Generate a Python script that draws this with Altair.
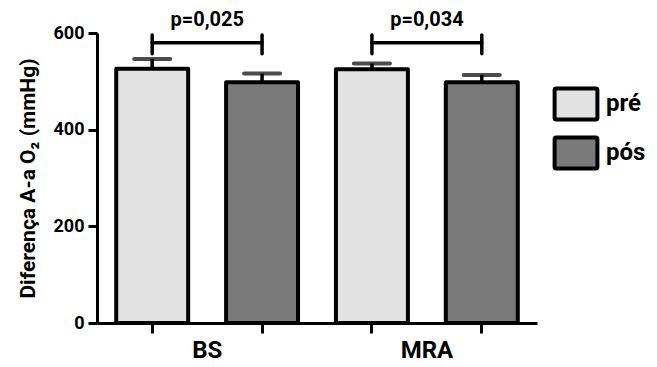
import altair as alt
import pandas as pd

# ---- data ----
groups = ["BS", "BS", "MRA", "MRA"]
periods = ["pré", "pós", "pré", "pós"]
means = [526, 498, 525, 498]
sems = [20, 18, 12, 15]

bracket_left = ["BS pré", "MRA pré"]
bracket_right = ["BS pós", "MRA pós"]
bracket_y = [580, 580]
bracket_lo = [557, 557]
bracket_hi = [596, 596]
p_labels = ["p=0,025", "p=0,034"]
p_label_y = [615, 615]

y_ticks = [0, 200, 400, 600]
legend_order = ["pré", "pós"]

FONT = "Roboto, Liberation Sans, sans-serif"

keys = [f"{g} {p}" for g, p in zip(groups, periods)]
bars = pd.DataFrame({
    "key": keys, "group": groups, "period": periods,
    "mean": means, "top": [m + s for m, s in zip(means, sems)],
})
brk = pd.DataFrame({
    "left": bracket_left, "right": bracket_right, "y": bracket_y,
    "label": p_labels, "ly": p_label_y,
})
ends = pd.DataFrame({
    "key": bracket_left + bracket_right,
    "lo": bracket_lo + bracket_lo,
    "hi": bracket_hi + bracket_hi,
})

x_scale = alt.Scale(domain=keys, paddingInner=0.345, paddingOuter=0.175)
y_scale = alt.Scale(domain=[0, 600], nice=False)

label_expr = "datum.value == 'BS pré' ? 'BS' : (datum.value == 'MRA pré' ? 'MRA' : '')"

x_axis = alt.Axis(
    title=None, labelExpr=label_expr, labelOffset=55, labelAngle=0,
    labelFontSize=24, labelFontWeight="bold", labelFont=FONT, labelColor="black",
    labelPadding=5, tickSize=10, tickWidth=3, tickColor="black",
    domainWidth=3, domainColor="black", labelOverlap=False,
)
y_axis = alt.Axis(
    title="Diferença A-a O₂ (mmHg)", values=y_ticks, grid=False,
    labelFontSize=18, labelFontWeight="bold", labelFont=FONT, labelColor="black",
    labelPadding=4, tickSize=9, tickWidth=3, tickColor="black",
    domainWidth=3, domainColor="black",
    titleFontSize=21, titleFontWeight="bold", titleFont=FONT, titleColor="black",
    titlePadding=15,
)

swatch = "M-0.93,-0.6Q-0.93,-0.67,-0.86,-0.67H0.86Q0.93,-0.67,0.93,-0.6V0.6Q0.93,0.67,0.86,0.67H-0.86Q-0.93,0.67,-0.93,0.6Z"

base = alt.Chart(bars)

bar_layer = base.mark_bar(stroke="black", strokeWidth=4, strokeJoin="round").encode(
    x=alt.X("key:N", scale=x_scale, axis=x_axis, sort=keys),
    y=alt.Y("mean:Q", scale=y_scale, axis=y_axis),
    color=alt.Color(
        "period:N",
        scale=alt.Scale(domain=legend_order, range=["#e2e2e2", "#7a7a7a"]),
        legend=alt.Legend(
            title=None, orient="none", legendX=454, legendY=46, padding=0,
            symbolType=swatch, symbolSize=2116, symbolStrokeColor="black",
            symbolStrokeWidth=4, rowPadding=0,
            labelFontSize=24, labelFontWeight="bold", labelFont=FONT, labelColor="black",
            labelOffset=5,
        ),
    ),
)

err_rule = base.mark_rule(color="black", strokeWidth=3.5).encode(
    x=alt.X("key:N", sort=keys), y="mean:Q", y2="top:Q",
)
err_cap = base.mark_tick(color="black", size=40, thickness=4, cornerRadius=2).encode(
    x=alt.X("key:N", sort=keys), y="top:Q",
)

b = alt.Chart(brk)
bracket_line = b.mark_rule(color="black", strokeWidth=3.5, strokeCap="round").encode(
    x=alt.X("left:N", sort=keys, bandPosition=0.5),
    x2=alt.X2("right:N", bandPosition=0.5),
    y="y:Q",
)
bracket_ends = alt.Chart(ends).mark_rule(color="black", strokeWidth=3.5, strokeCap="round").encode(
    x=alt.X("key:N", sort=keys), y="lo:Q", y2="hi:Q",
)
p_text = b.mark_text(dx=55, baseline="alphabetic", fontSize=20, fontWeight="bold", font=FONT, color="black").encode(
    x=alt.X("left:N", sort=keys), y="ly:Q", text="label:N",
)

chart = alt.layer(
    bar_layer, err_rule, err_cap, bracket_line, bracket_ends, p_text
).properties(
    width=440, height=290, background="white",
    autosize=alt.AutoSizeParams(type="none"),
    padding={"left": 89, "top": 25, "right": 112, "bottom": 42},
).configure_view(stroke=None)

chart.save("out.html", embed_options={"renderer": "svg", "actions": False})
